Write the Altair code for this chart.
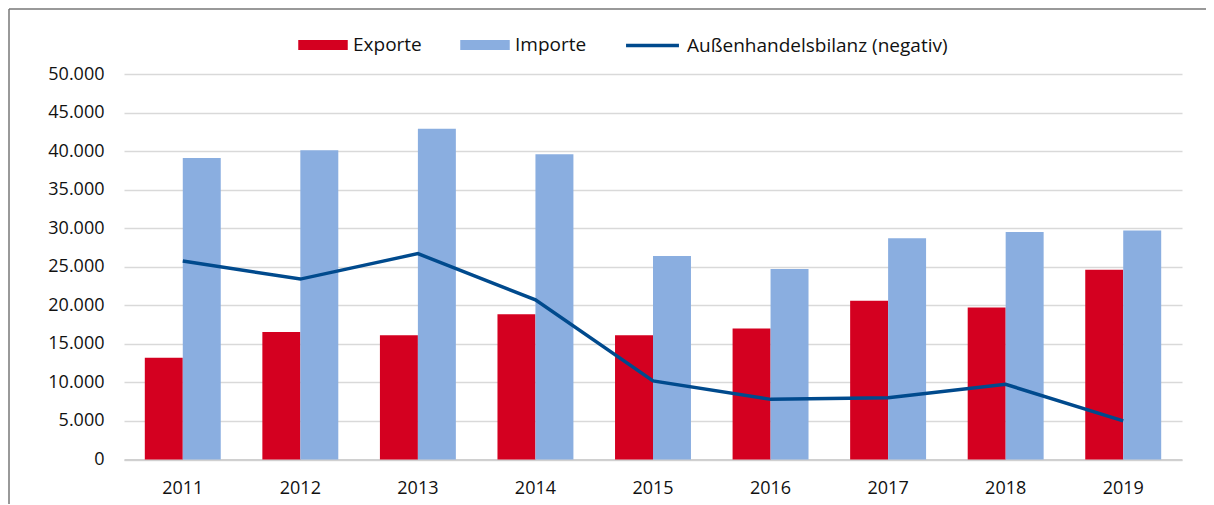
import altair as alt
import pandas as pd

years = ["2011", "2012", "2013", "2014", "2015", "2016", "2017", "2018", "2019"]
exporte = [13200, 16550, 16100, 18850, 16100, 17000, 20600, 19700, 24600]
importe = [39100, 40100, 42900, 39600, 26400, 24700, 28700, 29500, 29700]
bilanz = [25750, 23400, 26700, 20700, 10200, 7800, 8000, 9750, 5000]

series_bars = ["Exporte", "Importe"]
series_line = "Außenhandelsbilanz (negativ)"
y_ticks = [0, 5000, 10000, 15000, 20000, 25000, 30000, 35000, 40000, 45000, 50000]

bar_rows = []
for i, y in enumerate(years):
    bar_rows.append({"Jahr": y, "Reihe": "Exporte", "Wert": exporte[i]})
    bar_rows.append({"Jahr": y, "Reihe": "Importe", "Wert": importe[i]})
bars_df = pd.DataFrame(bar_rows)
line_df = pd.DataFrame({"Jahr": years, "Reihe": [series_line] * len(years), "Wert": bilanz})

FONT = "Open Sans"
RED = "#D40020"
BLUE = "#8AAEE0"
NAVY = "#004A8D"
TXT = "#111111"

x_enc = alt.X(
    "Jahr:N",
    sort=years,
    title=None,
    scale=alt.Scale(paddingInner=0.354, paddingOuter=0.177),
    axis=alt.Axis(labelAngle=0, ticks=False, domain=True, domainColor="#d0d0d0",
                  domainWidth=2, labelPadding=20, labelFontSize=18, labelFont=FONT,
                  labelColor=TXT, grid=False),
)
y_enc = alt.Y(
    "Wert:Q",
    title=None,
    scale=alt.Scale(domain=[0, 50000], nice=False),
    axis=alt.Axis(values=y_ticks, ticks=False, domain=False, grid=True,
                  gridColor="#d9d9d9", gridWidth=1.3, labelPadding=20,
                  labelFontSize=18, labelFont=FONT, labelColor=TXT,
                  labelOverlap=False,
                  labelExpr="replace(format(datum.value, ','), ',', '.')"),
)

bars = alt.Chart(bars_df).mark_bar().encode(
    x=x_enc,
    y=y_enc,
    xOffset=alt.XOffset("Reihe:N", sort=series_bars,
                        scale=alt.Scale(paddingInner=0, paddingOuter=0)),
    color=alt.Color(
        "Reihe:N",
        scale=alt.Scale(domain=series_bars, range=[RED, BLUE]),
        legend=alt.Legend(
            orient="none", legendX=174, legendY=-54, direction="horizontal",
            title=None, symbolType="M-1,-0.2H1V0.2H-1Z", symbolSize=2450,
            symbolStrokeWidth=0, symbolOpacity=1, labelFontSize=19, labelFont=FONT,
            labelColor=TXT, columnPadding=38, labelOffset=5, labelLimit=0,
        ),
    ),
)

line = alt.Chart(line_df).mark_line(strokeWidth=3.5, color=NAVY).encode(
    x=x_enc,
    y=y_enc,
    stroke=alt.Stroke(
        "Reihe:N",
        scale=alt.Scale(domain=[series_line], range=[NAVY]),
        legend=alt.Legend(
            orient="none", legendX=500, legendY=-57, direction="horizontal",
            title=None, symbolType="stroke", symbolSize=2800, symbolStrokeWidth=3.5,
            labelFontSize=19, labelFont=FONT, labelColor=TXT, labelOffset=6,
            labelLimit=0,
        ),
    ),
)

frame_top = alt.Chart(pd.DataFrame({"k": [0]})).mark_rule(color="#777777", strokeWidth=1.5).encode(
    x=alt.value(-115), x2=alt.value(1100), y=alt.value(-65)
)
frame_left = alt.Chart(pd.DataFrame({"k": [0]})).mark_rule(color="#777777", strokeWidth=1.5).encode(
    x=alt.value(-115), y=alt.value(-65), y2=alt.value(440)
)

chart = alt.layer(bars, line, frame_top, frame_left).resolve_scale(
    color="independent", stroke="independent"
).properties(
    width=1058,
    height=385.5,
    padding={"left": 116, "top": 66, "right": 24, "bottom": 44},
    autosize=alt.AutoSizeParams(type="none"),
    background="white",
).configure_view(stroke=None)

chart.save("out.html", embed_options={"renderer": "svg", "actions": False})
